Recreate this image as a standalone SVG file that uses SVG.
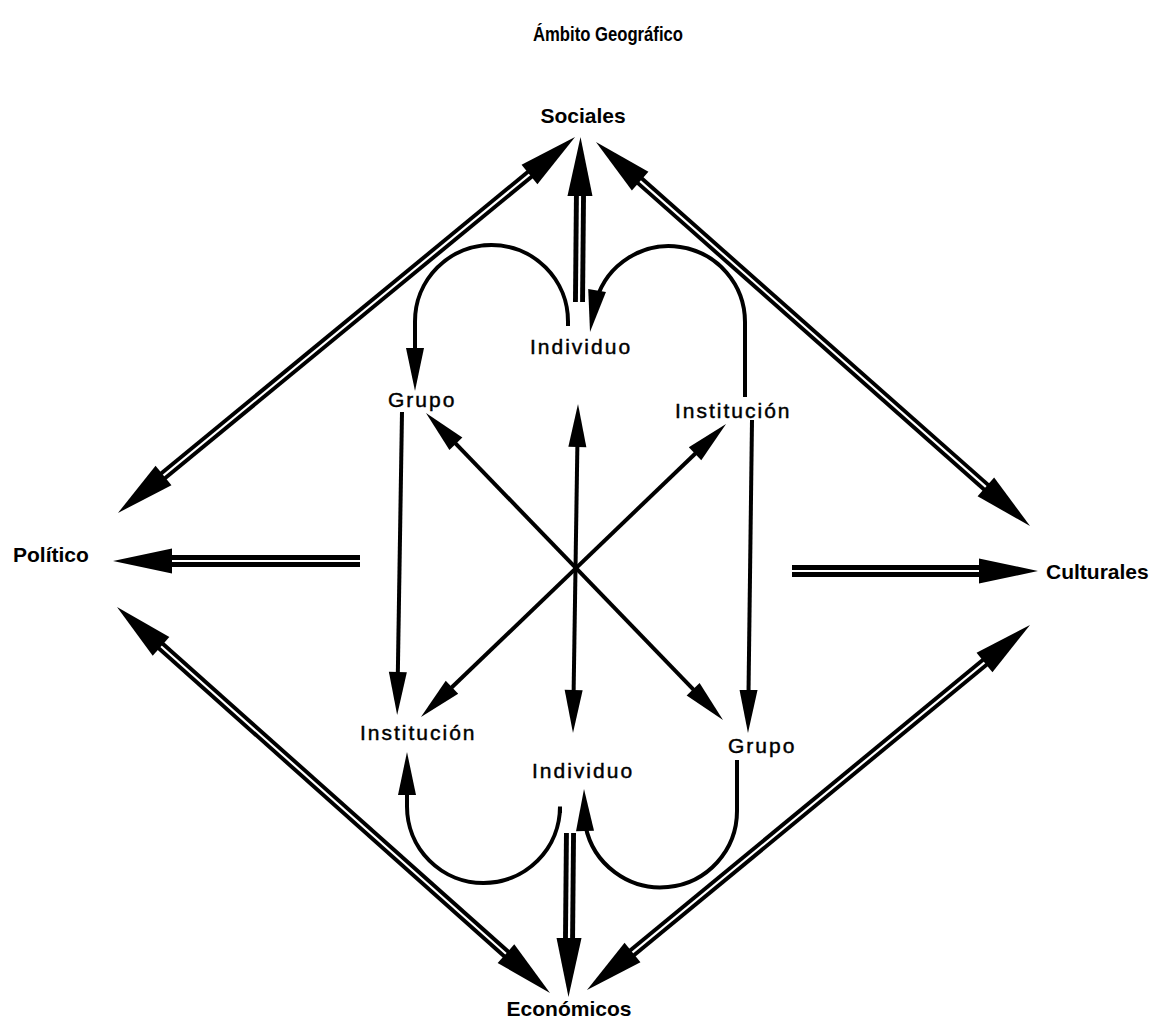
<svg xmlns="http://www.w3.org/2000/svg" xmlns:xlink="http://www.w3.org/1999/xlink" width="1155" height="1023" viewBox="0 0 1155 1023">
<style>
.title{font-family:"Liberation Sans Narrow","Liberation Sans",Arial,sans-serif;font-weight:bold;font-size:20px;fill:#000}
.outer{font-family:"Liberation Sans",Arial,sans-serif;font-weight:bold;font-size:21px;fill:#000}
.inner{font-family:"Liberation Sans",Arial,sans-serif;font-size:21px;letter-spacing:2px;fill:#000;stroke:#000;stroke-width:0.45}
.ln{fill:none;stroke:#000;stroke-width:4}
.dk{fill:none;stroke:#000;stroke-width:12}
.dkd{fill:none;stroke:#000;stroke-width:10}
.dw{fill:none;stroke:#fff;stroke-width:2.2}
.hd{fill:#000}
</style>
<defs>
<marker id="sh" markerUnits="userSpaceOnUse" markerWidth="60" markerHeight="30" refX="0" refY="0" orient="auto-start-reverse" overflow="visible">
<path d="M-3,-9 L40,0 L-3,9 z" fill="#000"/>
</marker>
<marker id="dh" markerUnits="userSpaceOnUse" markerWidth="80" markerHeight="40" refX="0" refY="0" orient="auto-start-reverse" overflow="visible">
<path d="M-3,-12.5 L56,0 L-3,12.5 z" fill="#000"/>
</marker>
<path id="shead" d="M0,0 L-42,-9 L-42,9 z"/>
</defs>
<rect width="1155" height="1023" fill="#fff"/>

<text class="title" x="533" y="41" textLength="150" lengthAdjust="spacingAndGlyphs">Ámbito Geográfico</text>

<g id="connectors">
<!-- double-line arrows -->
<path class="dkd" d="M531.8,172.6 L161.2,477.4"/>
<path class="dw" d="M531.8,172.6 L161.2,477.4" marker-start="url(#dh)" marker-end="url(#dh)"/>
<path class="dkd" d="M637.9,179.1 L988.1,488.9"/>
<path class="dw" d="M637.9,179.1 L988.1,488.9" marker-start="url(#dh)" marker-end="url(#dh)"/>
<path class="dkd" d="M158.8,644.3 L508.2,955.7"/>
<path class="dw" d="M158.8,644.3 L508.2,955.7" marker-start="url(#dh)" marker-end="url(#dh)"/>
<path class="dkd" d="M986.8,660.6 L630.2,954.4"/>
<path class="dw" d="M986.8,660.6 L630.2,954.4" marker-start="url(#dh)" marker-end="url(#dh)"/>
<path class="dk" d="M360,561 L169,561"/>
<path class="dw" d="M360,561 L169,561" marker-end="url(#dh)"/>
<path class="dk" d="M792,571 L982,571"/>
<path class="dw" d="M792,571 L982,571" marker-end="url(#dh)"/>
<path class="dk" d="M579,302 L580,193"/>
<path class="dw" d="M579,302 L580,193" marker-end="url(#dh)"/>
<path class="dk" d="M570,833 L569,941"/>
<path class="dw" d="M570,833 L569,941" marker-end="url(#dh)"/>
<!-- single-line arrows -->
<path class="ln" d="M453.8,441.7 L695.2,691.3" marker-start="url(#sh)" marker-end="url(#sh)"/>
<path class="ln" d="M697.2,451.7 L449.8,689.3" marker-start="url(#sh)" marker-end="url(#sh)"/>
<path class="ln" d="M577.4,444 L573.6,693" marker-start="url(#sh)" marker-end="url(#sh)"/>
<path class="ln" d="M402,412 L397.8,675" marker-end="url(#sh)"/>
<path class="ln" d="M752,420 L748.5,693" marker-end="url(#sh)"/>
<!-- loops -->
<path class="ln" d="M568,326 L568,321.5 A76.5,76.5 0 0 0 415,321.5 L415,351" marker-end="url(#sh)"/>
<path class="ln" d="M745,397 L745,322 A76,76 0 0 0 596.3,300"/>
<use href="#shead" class="hd" transform="translate(590,332) rotate(99.7)"/>
<path class="ln" d="M560,813 L560,806.5 A76.5,76.5 0 0 1 407,806.5 L407,792" marker-end="url(#sh)"/>
<path class="ln" d="M737,760 L737,811 A76.5,76.5 0 0 1 585.5,826"/>
<use href="#shead" class="hd" transform="translate(584,789) rotate(-91.4)"/>
</g>

<g id="sociales"><text class="outer" x="583" y="123" text-anchor="middle">Sociales</text></g>
<g id="politico"><text class="outer" x="13" y="562">Político</text></g>
<g id="culturales"><text class="outer" x="1046" y="579">Culturales</text></g>
<g id="economicos"><text class="outer" x="569" y="1016" text-anchor="middle">Económicos</text></g>
<g id="individuo-top"><text class="inner" x="530" y="354">Individuo</text></g>
<g id="grupo-top"><text class="inner" x="388" y="407">Grupo</text></g>
<g id="institucion-top"><text class="inner" x="675" y="418">Institución</text></g>
<g id="institucion-bottom"><text class="inner" x="360" y="740">Institución</text></g>
<g id="individuo-bottom"><text class="inner" x="532" y="778">Individuo</text></g>
<g id="grupo-bottom"><text class="inner" x="728" y="753">Grupo</text></g>
</svg>
